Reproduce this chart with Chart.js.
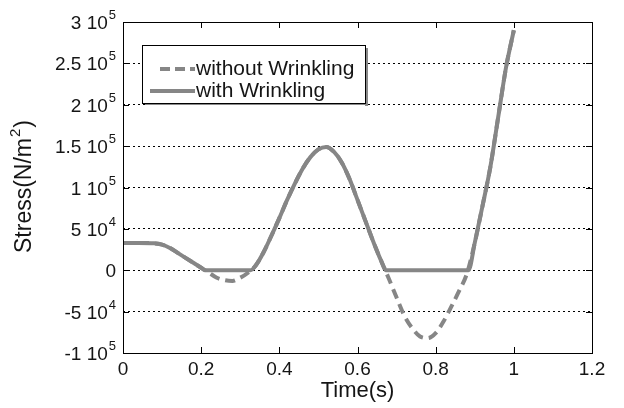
<!DOCTYPE html>
<html>
<head>
<meta charset="utf-8">
<script src="https://cdn.jsdelivr.net/npm/chart.js"></script>
<style>
  html, body { margin: 0; padding: 0; background: #fff; }
  #wrap { width: 624px; height: 408px; }
</style>
</head>
<body>
<div id="wrap"><canvas id="c" width="624" height="408"></canvas></div>
<script>
// stress in N/m^2 vs time (s)
const timeWithout = [0, 0.04, 0.08, 0.1, 0.12, 0.14, 0.16, 0.18, 0.2, 0.22, 0.24, 0.26, 0.28, 0.3, 0.32, 0.34, 0.36, 0.38, 0.4, 0.42, 0.44, 0.46, 0.48, 0.5, 0.52, 0.54, 0.56, 0.58, 0.6, 0.62, 0.64, 0.66, 0.68, 0.7, 0.72, 0.74, 0.76, 0.78, 0.8, 0.82, 0.84, 0.86, 0.88, 0.9, 0.92, 0.94, 0.96, 0.98, 1.0];
const stressWithout = [33000, 33000, 32500, 31000, 27000, 21000, 15000, 9000, 3000, -3000, -9000, -12000, -13000, -9000, -3000, 6000, 22000, 42000, 63000, 85000, 105000, 123000, 137000, 146000, 149000, 143000, 130000, 110000, 85000, 60000, 35000, 12000, -10000, -33000, -55000, -70000, -80000, -82000, -76000, -62000, -44000, -25000, -4000, 33000, 78000, 125000, 185000, 245000, 290000];

const timeWith = [0, 0.04, 0.08, 0.1, 0.12, 0.14, 0.16, 0.18, 0.2, 0.21, 0.326, 0.34, 0.36, 0.38, 0.4, 0.42, 0.44, 0.46, 0.48, 0.5, 0.52, 0.54, 0.56, 0.58, 0.6, 0.62, 0.64, 0.66, 0.673, 0.884, 0.9, 0.92, 0.94, 0.96, 0.98, 1.0];
const stressWith = [33000, 33000, 32500, 31000, 27000, 21000, 15000, 9000, 3000, 0, 0, 6000, 22000, 42000, 63000, 85000, 105000, 123000, 137000, 146000, 149000, 143000, 130000, 110000, 85000, 60000, 35000, 12000, 0, 0, 33000, 78000, 125000, 185000, 245000, 290000];

const xTicks = [0, 0.2, 0.4, 0.6, 0.8, 1, 1.2];
// y tick labels written as "mantissa 10^exp"
const yTickValues = [300000, 250000, 200000, 150000, 100000, 50000, 0, -50000, -100000];
const yTickMantissa = ["3 10", "2.5 10", "2 10", "1.5 10", "1 10", "5 10", "0", "-5 10", "-1 10"];
const yTickExp = ["5", "5", "5", "5", "5", "4", "", "4", "5"];
const seriesNames = ["without Wrinkling", "with Wrinkling"];

const toPts = (xs, ys) => xs.map((x, i) => ({ x: x, y: ys[i] }));
const FONT = "'Liberation Sans', Arial, sans-serif";
const lineColor = "#868686";
const textColor = "#151515";

// box, inward ticks, y labels with superscripts, y title and legend
const framePlugin = {
  id: "frame",
  afterDraw(chart) {
    const ctx = chart.ctx;
    const a = chart.chartArea;
    const xs = chart.scales.x, ys = chart.scales.y;
    ctx.save();
    ctx.strokeStyle = "#000";
    ctx.lineWidth = 1;
    ctx.setLineDash([]);
    ctx.strokeRect(a.left + 0.5, a.top + 0.5, a.right - a.left, a.bottom - a.top);
    ctx.beginPath();
    xTicks.forEach(v => {
      const px = Math.round(xs.getPixelForValue(v)) + 0.5;
      ctx.moveTo(px, a.bottom); ctx.lineTo(px, a.bottom - 6);
      ctx.moveTo(px, a.top); ctx.lineTo(px, a.top + 6);
    });
    yTickValues.forEach(v => {
      const py = Math.round(ys.getPixelForValue(v)) + 0.5;
      ctx.moveTo(a.left, py); ctx.lineTo(a.left + 6, py);
      ctx.moveTo(a.right, py); ctx.lineTo(a.right - 6, py);
    });
    ctx.stroke();

    // y tick labels
    ctx.fillStyle = textColor;
    ctx.textBaseline = "alphabetic";
    ctx.textAlign = "right";
    yTickValues.forEach((v, i) => {
      const py = ys.getPixelForValue(v);
      const right = a.left - 7;
      if (yTickExp[i]) {
        ctx.font = "13px " + FONT;
        ctx.fillText(yTickExp[i], right, py - 3);
        const ew = ctx.measureText(yTickExp[i]).width;
        ctx.font = "19px " + FONT;
        ctx.fillText(yTickMantissa[i], right - ew - 1, py + 7);
      } else {
        ctx.font = "19px " + FONT;
        ctx.fillText(yTickMantissa[i], right, py + 7);
      }
    });

    // y title, rotated, with superscript 2
    ctx.save();
    ctx.translate(31, (a.top + a.bottom) / 2);
    ctx.rotate(-Math.PI / 2);
    ctx.textAlign = "left";
    ctx.font = "23px " + FONT;
    const t1 = "Stress(N/m", t3 = ")";
    const w1 = ctx.measureText(t1).width;
    const w3 = ctx.measureText(t3).width;
    ctx.font = "15px " + FONT;
    const w2 = ctx.measureText("2").width;
    let x0 = -(w1 + w2 + w3) / 2;
    ctx.font = "23px " + FONT;
    ctx.fillText(t1, x0, 0);
    ctx.font = "15px " + FONT;
    ctx.fillText("2", x0 + w1 + 1, -11);
    ctx.font = "23px " + FONT;
    ctx.fillText(t3, x0 + w1 + w2 + 2, 0);
    ctx.restore();

    // legend
    const bx = 142, by = 45, bw = 223, bh = 58;
    ctx.fillStyle = "#8a8a8a";
    ctx.fillRect(bx + bw, by + 3, 3, bh);
    ctx.fillRect(bx + 3, by + bh, bw, 2);
    ctx.fillStyle = "#fff";
    ctx.fillRect(bx, by, bw, bh);
    ctx.strokeStyle = "#000";
    ctx.lineWidth = 1;
    ctx.strokeRect(bx + 0.5, by + 0.5, bw, bh);
    ctx.font = "21px " + FONT;
    ctx.fillStyle = textColor;
    ctx.textAlign = "left";
    ctx.textBaseline = "middle";
    ctx.strokeStyle = lineColor;
    ctx.lineWidth = 4;
    ctx.setLineDash([10, 5]);
    ctx.beginPath(); ctx.moveTo(160, 69); ctx.lineTo(195, 69); ctx.stroke();
    ctx.setLineDash([]);
    ctx.beginPath(); ctx.moveTo(150, 91); ctx.lineTo(195, 91); ctx.stroke();
    ctx.fillText(seriesNames[0], 196, 69);
    ctx.fillText(seriesNames[1], 196, 91);
    ctx.restore();
  }
};

new Chart(document.getElementById("c"), {
  type: "scatter",
  data: {
    datasets: [
      {
        label: seriesNames[0],
        data: toPts(timeWithout, stressWithout),
        showLine: true,
        borderColor: lineColor,
        borderWidth: 4,
        borderDash: [10, 6],
        pointRadius: 0,
        cubicInterpolationMode: "monotone"
      },
      {
        label: seriesNames[1],
        data: toPts(timeWith, stressWith),
        showLine: true,
        borderColor: lineColor,
        borderWidth: 4,
        pointRadius: 0,
        cubicInterpolationMode: "monotone"
      }
    ]
  },
  options: {
    responsive: false,
    animation: false,
    layout: { padding: { top: 22, right: 32, left: 0, bottom: 0 } },
    plugins: {
      legend: { display: false },
      tooltip: { enabled: false }
    },
    scales: {
      x: {
        type: "linear",
        min: 0, max: 1.2,
        afterBuildTicks: s => { s.ticks = xTicks.map(v => ({ value: v })); },
        afterFit: s => { s.height = 55; },
        grid: { display: false, drawTicks: false },
        border: { display: false },
        ticks: {
          color: textColor,
          font: { family: FONT, size: 19 },
          padding: 5,
          maxRotation: 0,
          callback: v => String(v)
        },
        title: {
          display: true,
          text: "Time(s)",
          color: textColor,
          font: { family: FONT, size: 22 },
          padding: { top: 0, bottom: 4 }
        }
      },
      y: {
        min: -100000, max: 300000,
        afterBuildTicks: s => { s.ticks = yTickValues.map(v => ({ value: v })); },
        afterFit: s => { s.width = 123; },
        ticks: { display: false },
        grid: {
          color: "#000",
          lineWidth: 1,
          drawTicks: false
        },
        border: { display: false, dash: [2, 3] }
      }
    }
  },
  plugins: [framePlugin]
});
</script>
</body>
</html>
